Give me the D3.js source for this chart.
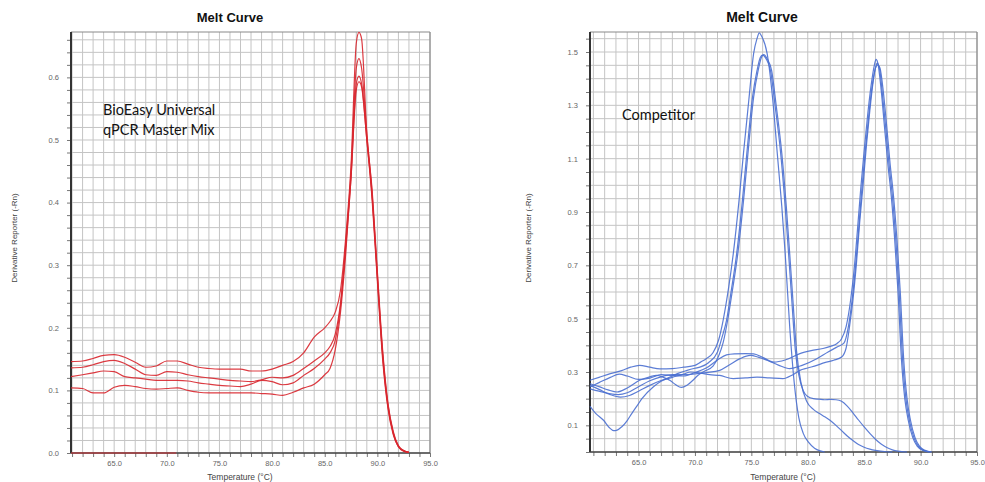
<!DOCTYPE html>
<html><head><meta charset="utf-8">
<script src="https://cdn.jsdelivr.net/npm/d3@7"></script>
<style>body{margin:0;background:#fff;} svg{display:block;}</style>
</head><body><svg id="chart" width="985" height="482"></svg>
<script>
// ---------- LEFT PANEL DATA (BioEasy) ----------
const leftTemps = [60.9,62,63,64,65,66,67,68,69,70,71,72,73,74,75,76,77,78,79,80,81,82,83,84,85,
  85.5,86,86.5,87,87.5,88,88.25,88.5,89,89.5,90,90.5,91,91.5,92,92.5,93];
const bioA = [0.146,0.147,0.151,0.156,0.157,0.153,0.145,0.137,0.139,0.147,0.147,0.142,0.137,0.135,0.134,0.134,0.134,0.131,0.131,0.134,0.14,0.146,0.16,0.185,0.2,
  0.21,0.225,0.26,0.345,0.46,0.655,0.672,0.662,0.51,0.42,0.29,0.165,0.08,0.035,0.012,0.004,0.001];
const bioB = [0.136,0.137,0.141,0.146,0.148,0.143,0.134,0.125,0.124,0.13,0.129,0.125,0.122,0.12,0.118,0.116,0.115,0.114,0.117,0.121,0.12,0.124,0.135,0.147,0.16,
  0.17,0.19,0.24,0.335,0.45,0.615,0.63,0.615,0.51,0.415,0.285,0.16,0.078,0.033,0.011,0.004,0.001];
const bioC = [0.122,0.125,0.128,0.131,0.13,0.122,0.12,0.118,0.116,0.116,0.116,0.115,0.112,0.11,0.108,0.107,0.106,0.11,0.116,0.114,0.109,0.112,0.124,0.135,0.15,
  0.16,0.18,0.235,0.33,0.44,0.59,0.602,0.59,0.5,0.41,0.28,0.155,0.075,0.032,0.01,0.003,0.001];
const bioD = [0.104,0.103,0.096,0.096,0.105,0.108,0.106,0.103,0.102,0.103,0.104,0.1,0.097,0.096,0.096,0.096,0.096,0.096,0.095,0.094,0.092,0.097,0.104,0.11,0.125,
  0.135,0.165,0.225,0.32,0.44,0.58,0.593,0.585,0.5,0.405,0.275,0.15,0.072,0.03,0.01,0.003,0.001];
const bioNtcTemps = [60.9, 70.9];
const bioNtc = [0, 0];
const leftYTicks = [0.0,0.1,0.2,0.3,0.4,0.5,0.6];
const xTicks = [65,70,75,80,85,90,95];

// ---------- RIGHT PANEL DATA (Competitor) : [temperature, value] ----------
const compP1 = [[60.7,0.269],[61.5,0.28],[62.5,0.294],[63.5,0.305],[64.3,0.318],[65.1,0.325],[66,0.318],[66.9,0.312],[68,0.313],[69,0.318],[70,0.325],[70.5,0.337],[71,0.35],[71.6,0.372],[72.1,0.42],[72.5,0.494],[73,0.62],[73.4,0.744],[73.9,0.94],[74.3,1.119],[74.8,1.33],[75.2,1.494],[75.5,1.55],[75.7,1.572],[75.9,1.56],[76.4,1.494],[76.9,1.32],[77.3,1.119],[77.7,0.92],[78.0,0.744],[78.4,0.47],[78.8,0.26],[79.2,0.13],[79.6,0.07],[80.1,0.035],[80.6,0.014],[81.1,0.004],[81.5,0]];
const compP2 = [[60.7,0.171],[61.2,0.145],[61.9,0.119],[62.4,0.092],[62.8,0.08],[63.1,0.082],[63.5,0.094],[64,0.118],[64.4,0.144],[64.9,0.175],[65.3,0.2],[66.3,0.244],[67,0.265],[67.8,0.281],[68.5,0.295],[69.3,0.306],[70,0.314],[70.5,0.319],[71.2,0.335],[72,0.375],[72.4,0.43],[72.8,0.494],[73.2,0.6],[73.7,0.744],[74.2,0.94],[74.6,1.12],[75.1,1.33],[75.5,1.43],[75.8,1.48],[76.0,1.488],[76.3,1.475],[76.7,1.43],[77.1,1.3],[77.6,1.12],[78.0,0.92],[78.3,0.744],[78.6,0.56],[78.9,0.381],[79.2,0.29],[79.6,0.23],[80,0.208],[80.5,0.2],[81,0.198],[81.5,0.196],[82,0.197],[82.5,0.196],[83,0.19],[83.5,0.172],[84,0.147],[84.5,0.12],[85,0.094],[85.5,0.07],[86,0.048],[86.5,0.03],[87,0.017],[87.5,0.008],[88,0.003],[88.8,0]];
const compP3 = [[60.7,0.256],[61.5,0.245],[62.3,0.233],[63.1,0.225],[64,0.24],[65.1,0.269],[66,0.282],[66.6,0.287],[67.2,0.28],[67.8,0.268],[68.3,0.252],[68.8,0.242],[69.3,0.25],[69.8,0.268],[70.2,0.285],[70.8,0.302],[71.6,0.322],[72.1,0.36],[72.5,0.41],[72.9,0.494],[73.3,0.6],[73.8,0.744],[74.3,0.94],[74.7,1.12],[75.2,1.33],[75.6,1.43],[75.9,1.48],[76.1,1.49],[76.4,1.475],[76.8,1.43],[77.2,1.3],[77.7,1.12],[78.1,0.92],[78.4,0.744],[78.7,0.56],[79.0,0.381],[79.4,0.26],[79.9,0.19],[80.5,0.16],[81,0.145],[81.5,0.132],[82,0.118],[82.5,0.1],[83,0.08],[83.5,0.06],[84,0.043],[84.5,0.028],[85,0.018],[85.5,0.011],[86,0.006],[87,0.001],[87.5,0]];
const compQ1 = [[60.7,0.244],[61.5,0.26],[62.5,0.28],[63.3,0.292],[64,0.285],[65,0.272],[66,0.277],[67,0.29],[68,0.287],[69,0.285],[70,0.298],[71,0.315],[72,0.345],[72.8,0.364],[73.5,0.368],[74.5,0.369],[75.2,0.368],[76,0.355],[77,0.337],[78,0.345],[79.3,0.369],[80.3,0.38],[81.35,0.388],[82,0.396],[82.6,0.407],[83,0.425],[83.4,0.47],[83.8,0.57],[84.1,0.68],[84.4,0.83],[84.7,0.99],[85,1.13],[85.3,1.26],[85.6,1.37],[85.9,1.45],[86.05,1.472],[86.2,1.46],[86.5,1.36],[86.8,1.22],[87.1,1.08],[87.4,0.96],[87.7,0.8],[88,0.6],[88.3,0.35],[88.6,0.2],[88.9,0.12],[89.3,0.055],[89.7,0.022],[90.2,0.006],[90.8,0]];
const compQ2 = [[60.7,0.237],[61.5,0.228],[62.3,0.22],[63.2,0.215],[64,0.222],[65,0.245],[66,0.267],[67,0.282],[68,0.29],[69,0.29],[70,0.293],[71,0.298],[72.2,0.306],[73,0.325],[74,0.35],[74.9,0.362],[75.6,0.356],[76.4,0.344],[77.4,0.326],[78.4,0.313],[79.5,0.325],[80.8,0.35],[81.8,0.375],[82.6,0.394],[83.2,0.408],[83.6,0.47],[83.9,0.56],[84.2,0.68],[84.5,0.83],[84.8,0.99],[85.1,1.13],[85.4,1.26],[85.7,1.37],[86.0,1.44],[86.15,1.458],[86.35,1.44],[86.6,1.35],[86.9,1.22],[87.2,1.08],[87.5,0.96],[87.8,0.8],[88.1,0.6],[88.4,0.35],[88.7,0.2],[89,0.12],[89.4,0.055],[89.8,0.022],[90.3,0.006],[90.9,0]];
const compQ3 = [[60.7,0.25],[61.5,0.235],[62.5,0.215],[63.4,0.206],[64.2,0.212],[65,0.228],[66,0.25],[67,0.268],[68,0.28],[69,0.292],[69.6,0.3],[70.5,0.296],[71.3,0.29],[72.2,0.287],[73.4,0.275],[74.5,0.278],[75.5,0.281],[76.6,0.278],[77.8,0.275],[78.6,0.288],[79.3,0.306],[80,0.315],[80.8,0.325],[81.5,0.335],[82.3,0.344],[83,0.356],[83.4,0.39],[83.7,0.47],[84,0.57],[84.3,0.7],[84.6,0.86],[84.9,1.0],[85.2,1.15],[85.5,1.28],[85.8,1.39],[86.0,1.44],[86.2,1.452],[86.4,1.44],[86.7,1.35],[87,1.22],[87.3,1.08],[87.6,0.96],[87.9,0.8],[88.2,0.6],[88.5,0.35],[88.8,0.2],[89.1,0.12],[89.5,0.055],[89.9,0.022],[90.4,0.006],[91,0]];
const rightYTicks = [0.1,0.3,0.5,0.7,0.9,1.1,1.3,1.5];

const svg = d3.select("#chart");

function panel(o) {
  const g = svg.append("g");
  const x = d3.scaleLinear().domain(o.xDomain).range([o.left, o.right]);
  const y = d3.scaleLinear().domain([0, o.yMax]).range([o.bottom, o.top]);
  const vGrid = d3.range(61, 95.01, 1);
  const hGrid = d3.range(0, o.yMax + 1e-9, o.yStep);
  // grid
  g.append("g").selectAll("line").data(vGrid).join("line")
    .attr("x1", d => x(d)).attr("x2", d => x(d))
    .attr("y1", o.top).attr("y2", o.bottom)
    .attr("stroke", "#c4c4c4").attr("stroke-width", 1);
  g.append("g").selectAll("line").data(hGrid).join("line")
    .attr("x1", o.left).attr("x2", o.right)
    .attr("y1", d => y(d)).attr("y2", d => y(d))
    .attr("stroke", "#c4c4c4").attr("stroke-width", 1);
  // frame top/right
  g.append("line").attr("x1", o.left).attr("x2", o.right).attr("y1", o.top).attr("y2", o.top)
    .attr("stroke", "#8a8a8a").attr("stroke-width", 1.2);
  g.append("line").attr("x1", o.right).attr("x2", o.right).attr("y1", o.top).attr("y2", o.bottom)
    .attr("stroke", "#8a8a8a").attr("stroke-width", 1.2);
  // minor ticks
  const yMinor = d3.axisLeft(y).tickValues(hGrid).tickSize(4).tickFormat("");
  const ym = g.append("g").attr("transform", `translate(${o.left},0)`).call(yMinor);
  ym.select(".domain").remove();
  ym.selectAll("line").attr("stroke", "#777");
  const xMinor = d3.axisBottom(x).tickValues(vGrid).tickSize(4).tickFormat("");
  const xm = g.append("g").attr("transform", `translate(0,${o.bottom})`).call(xMinor);
  xm.select(".domain").remove();
  xm.selectAll("line").attr("stroke", "#777");
  // labelled axes
  const ya = g.append("g").attr("transform", `translate(${o.left},0)`)
    .call(d3.axisLeft(y).tickValues(o.yTicks).tickFormat(d3.format(".1f")).tickSize(0).tickPadding(12));
  ya.select(".domain").remove();
  ya.selectAll("text").attr("font-family", "Liberation Sans, Arial, sans-serif")
    .attr("font-size", 7.5).attr("fill", "#666");
  const xa = g.append("g").attr("transform", `translate(0,${o.bottom})`)
    .call(d3.axisBottom(x).tickValues(xTicks).tickFormat(d3.format(".1f")).tickSize(0).tickPadding(8));
  xa.select(".domain").remove();
  xa.selectAll("text").attr("font-family", "Liberation Sans, Arial, sans-serif")
    .attr("font-size", 7.5).attr("fill", "#666");
  // axis lines
  g.append("line").attr("x1", o.left).attr("x2", o.left).attr("y1", o.top).attr("y2", o.bottom)
    .attr("stroke", "#333").attr("stroke-width", 2);
  g.append("line").attr("x1", o.left).attr("x2", o.right).attr("y1", o.bottom).attr("y2", o.bottom)
    .attr("stroke", "#444").attr("stroke-width", 1.6);
  // series
  const line = d3.line().x(d => x(d[0])).y(d => y(d[1])).curve(d3.curveMonotoneX);
  g.append("g").selectAll("path").data(o.series).join("path")
    .attr("d", line).attr("fill", "none")
    .attr("stroke", o.color).attr("stroke-width", o.sw).attr("stroke-opacity", 0.9);
  // titles
  g.append("text").attr("x", o.titleX).attr("y", 22).attr("text-anchor", "middle")
    .attr("font-family", "Liberation Sans, Arial, sans-serif").attr("font-weight", "bold")
    .attr("font-size", o.titleSize).attr("fill", "#111").text("Melt Curve");
  g.append("text").attr("transform", `translate(${o.yLabelX},238) rotate(-90)`)
    .attr("text-anchor", "middle").attr("font-family", "Liberation Sans, Arial, sans-serif")
    .attr("font-size", 8).attr("fill", "#444").text("Derivative Reporter (-Rn)");
  g.append("text").attr("x", o.xLabelX).attr("y", 479.5).attr("text-anchor", "middle")
    .attr("font-family", "Liberation Sans, Arial, sans-serif")
    .attr("font-size", 8.5).attr("fill", "#444").text("Temperature (°C)");
  // annotation
  o.note.forEach((t, i) => {
    g.append("text").attr("x", o.noteX).attr("y", o.noteY + i * 20)
      .attr("font-family", "Lato, Carlito, Open Sans, sans-serif").attr("font-size", 14.5)
      .attr("fill", "#111").text(t);
  });
}

const zip = (ts, vs) => ts.map((t, i) => [t, vs[i]]);

panel({
  left: 71, right: 430, top: 32, bottom: 453,
  xDomain: [60.9, 95], yMax: 0.6725, yStep: 0.02, yTicks: leftYTicks,
  series: [zip(bioNtcTemps, bioNtc), zip(leftTemps, bioD), zip(leftTemps, bioC), zip(leftTemps, bioB), zip(leftTemps, bioA)],
  color: "#d8262e", sw: 1.2,
  titleX: 230, titleSize: 13, yLabelX: 17, xLabelX: 240,
  note: ["BioEasy Universal", "qPCR Master Mix"], noteX: 103, noteY: 115
});

panel({
  left: 590, right: 977, top: 32, bottom: 452,
  xDomain: [60.7, 95], yMax: 1.575, yStep: 0.05, yTicks: rightYTicks,
  series: [compQ3, compQ2, compQ1, compP3, compP2, compP1],
  color: "#4a6fd0", sw: 1.2,
  titleX: 762, titleSize: 14, yLabelX: 531, xLabelX: 783,
  note: ["Competitor"], noteX: 622, noteY: 120
});
</script>
</body></html>
